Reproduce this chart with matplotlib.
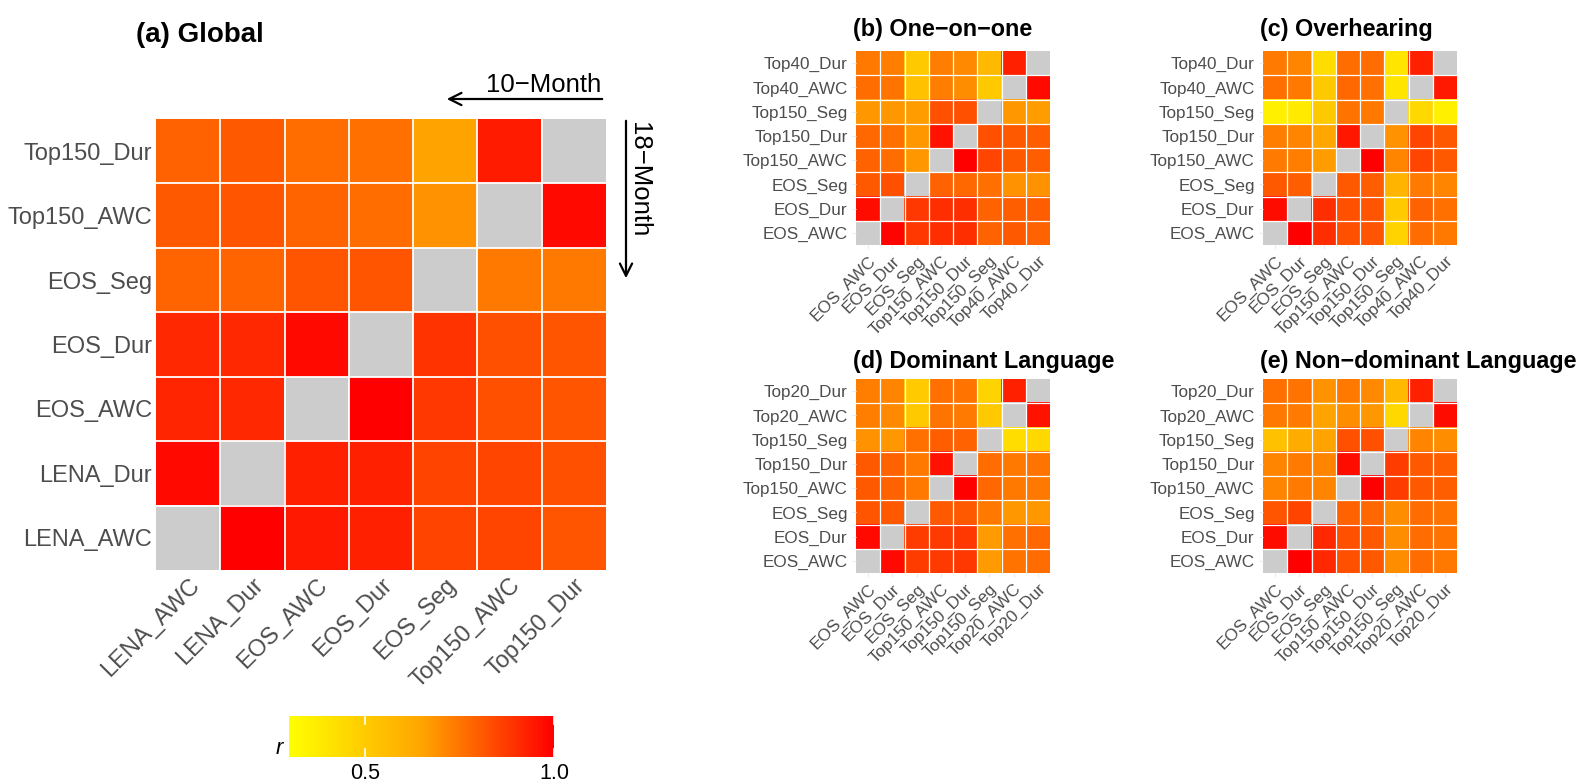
import numpy as np
import matplotlib
matplotlib.use("Agg")
import matplotlib.pyplot as plt
from matplotlib.colors import LinearSegmentedColormap, Normalize

plt.rcParams['font.family'] = ['Liberation Sans', 'DejaVu Sans']

NA = np.nan

# (a) Global: rows listed top to bottom, columns left to right
global_cols = ['LENA_AWC', 'LENA_Dur', 'EOS_AWC', 'EOS_Dur', 'EOS_Seg', 'Top150_AWC', 'Top150_Dur']
global_rows = global_cols[::-1]
global_r = [
    [0.79, 0.81, 0.77, 0.76, 0.655, 0.94, NA],
    [0.81, 0.82, 0.785, 0.77, 0.69, NA, 0.98],
    [0.785, 0.785, 0.82, 0.82, NA, 0.745, 0.745],
    [0.915, 0.915, 0.98, NA, 0.89, 0.83, 0.82],
    [0.92, 0.915, NA, 1.0, 0.88, 0.83, 0.82],
    [0.98, NA, 0.93, 0.93, 0.855, 0.85, 0.83],
    [NA, 1.0, 0.945, 0.93, 0.855, 0.85, 0.82],
]

ctx_cols_40 = ['EOS_AWC', 'EOS_Dur', 'EOS_Seg', 'Top150_AWC', 'Top150_Dur',
               'Top150_Seg', 'Top40_AWC', 'Top40_Dur']
ctx_cols_20 = ['EOS_AWC', 'EOS_Dur', 'EOS_Seg', 'Top150_AWC', 'Top150_Dur',
               'Top150_Seg', 'Top20_AWC', 'Top20_Dur']

# (b) One-on-one
one_on_one_r = [
    [0.745, 0.73, 0.51, 0.73, 0.71, 0.57, 0.93, NA],
    [0.77, 0.755, 0.54, 0.73, 0.70, 0.51, NA, 0.98],
    [0.68, 0.68, 0.665, 0.83, 0.83, NA, 0.68, 0.665],
    [0.78, 0.76, 0.68, 0.96, NA, 0.83, 0.81, 0.80],
    [0.79, 0.77, 0.68, NA, 1.0, 0.85, 0.81, 0.80],
    [0.81, 0.83, NA, 0.79, 0.78, 0.76, 0.69, 0.69],
    [0.97, NA, 0.88, 0.90, 0.90, 0.79, 0.80, 0.80],
    [NA, 0.99, 0.88, 0.90, 0.90, 0.79, 0.81, 0.79],
]

# (c) Overhearing
overhearing_r = [
    [0.74, 0.72, 0.43, 0.77, 0.77, 0.40, 0.93, NA],
    [0.76, 0.745, 0.51, 0.78, 0.76, 0.40, NA, 0.945],
    [0.36, 0.38, 0.51, 0.755, 0.745, NA, 0.45, 0.36],
    [0.73, 0.72, 0.64, 0.95, NA, 0.69, 0.85, 0.81],
    [0.74, 0.73, 0.665, NA, 1.0, 0.72, 0.85, 0.81],
    [0.81, 0.80, NA, 0.81, 0.80, 0.59, 0.74, 0.72],
    [0.97, NA, 0.90, 0.83, 0.82, 0.50, 0.79, 0.76],
    [NA, 1.0, 0.90, 0.83, 0.82, 0.47, 0.77, 0.745],
]

# (d) Dominant language
dominant_r = [
    [0.73, 0.72, 0.50, 0.76, 0.755, 0.47, 0.93, NA],
    [0.73, 0.71, 0.51, 0.755, 0.74, 0.51, NA, 0.96],
    [0.69, 0.68, 0.76, 0.80, 0.79, NA, 0.43, 0.45],
    [0.81, 0.79, 0.745, 0.96, NA, 0.77, 0.745, 0.755],
    [0.81, 0.79, 0.745, NA, 1.0, 0.78, 0.745, 0.745],
    [0.82, 0.81, NA, 0.81, 0.81, 0.745, 0.68, 0.68],
    [0.98, NA, 0.87, 0.875, 0.88, 0.67, 0.76, 0.78],
    [NA, 0.98, 0.87, 0.875, 0.88, 0.67, 0.755, 0.77],
]

# (e) Non-dominant language
non_dominant_r = [
    [0.76, 0.755, 0.69, 0.745, 0.71, 0.57, 0.93, NA],
    [0.745, 0.74, 0.655, 0.70, 0.68, 0.45, NA, 0.97],
    [0.54, 0.62, 0.655, 0.83, 0.83, NA, 0.72, 0.70],
    [0.72, 0.74, 0.72, 0.97, NA, 0.87, 0.81, 0.80],
    [0.72, 0.74, 0.72, NA, 1.0, 0.87, 0.81, 0.80],
    [0.82, 0.855, NA, 0.79, 0.78, 0.70, 0.77, 0.755],
    [0.97, NA, 0.915, 0.83, 0.81, 0.70, 0.77, 0.755],
    [NA, 1.0, 0.915, 0.83, 0.81, 0.70, 0.77, 0.745],
]

r_min, r_max = 0.3, 1.0
cmap = LinearSegmentedColormap.from_list('yor', ['#FFFF00', '#FFA500', '#FF0000'])
cmap.set_bad('#CCCCCC')
norm = Normalize(r_min, r_max)

W, H = 1577, 784
fig = plt.figure(figsize=(W / 100, H / 100), dpi=100)


def px_axes(x0, y0, x1, y1):
    return fig.add_axes([x0 / W, 1 - y1 / H, (x1 - x0) / W, (y1 - y0) / H])


def heat(ax, values, cols, rows, tick_fs, lw, tick_len):
    m = np.ma.masked_invalid(np.array(values, dtype=float))
    ax.imshow(m, cmap=cmap, norm=norm, aspect='auto', interpolation='nearest')
    n = len(cols)
    for k in range(1, n):
        ax.axvline(k - 0.5, color='white', lw=lw)
        ax.axhline(k - 0.5, color='white', lw=lw)
    ax.set_xticks(range(n))
    ax.set_xticklabels(cols, rotation=45, ha='right', rotation_mode='anchor')
    ax.set_yticks(range(len(rows)))
    ax.set_yticklabels(rows)
    ax.tick_params(labelsize=tick_fs, colors='#EBEBEB', labelcolor='#4D4D4D',
                   length=tick_len, width=0.8, pad=3)
    for s in ax.spines.values():
        s.set_visible(False)


ax_a = px_axes(156, 119, 606, 570)
heat(ax_a, global_r, global_cols, global_rows, 17, 1.3, 0)
fig.text(136 / W, 1 - 22 / H, '(a) Global', fontsize=20, fontweight='bold',
         ha='left', va='top')

# age direction arrows
fig.add_artist(matplotlib.patches.FancyArrowPatch(
    (605 / W, 1 - 99 / H), (444 / W, 1 - 99 / H), transform=fig.transFigure,
    arrowstyle='->', mutation_scale=22, lw=1.6, color='black'))
fig.text(601 / W, 1 - 97 / H, '10\u2212Month', fontsize=18.5, ha='right', va='bottom')
fig.add_artist(matplotlib.patches.FancyArrowPatch(
    (626 / W, 1 - 118 / H), (626 / W, 1 - 281 / H), transform=fig.transFigure,
    arrowstyle='->', mutation_scale=22, lw=1.6, color='black'))
fig.text(627 / W, 1 - 122 / H, '18\u2212Month', fontsize=18.5, rotation=-90,
         ha='left', va='top')

small = [
    ((856, 51), 18, one_on_one_r, ctx_cols_40, '(b) One\u2212on\u2212one'),
    ((1263, 51), 18, overhearing_r, ctx_cols_40, '(c) Overhearing'),
    ((856, 379), 350, dominant_r, ctx_cols_20, '(d) Dominant Language'),
    ((1263, 379), 350, non_dominant_r, ctx_cols_20, '(e) Non\u2212dominant Language'),
]
for (x0, y0), ty, vals, cols, title in small:
    ax = px_axes(x0, y0, x0 + 194, y0 + 194)
    heat(ax, vals, cols, cols[::-1], 12.3, 0.9, 3)
    fig.text((x0 - 3) / W, 1 - ty / H, title,
             fontsize=16.8, fontweight='bold', ha='left', va='top')

# colour bar
cax = px_axes(289, 716, 554, 757)
grad = np.linspace(r_min, r_max, 256)[None, :]
cax.imshow(grad, cmap=cmap, norm=norm, aspect='auto',
           extent=[r_min, r_max, 0, 1])
for t in [0.5, 1.0]:
    cax.plot([t, t], [0, 0.2], color='white', lw=1.2)
    cax.plot([t, t], [0.8, 1], color='white', lw=1.2)
cax.set_xlim(r_min, r_max)
cax.set_ylim(0, 1)
cax.set_xticks([0.5, 1.0])
cax.set_xticklabels(['0.5', '1.0'])
cax.set_yticks([])
cax.tick_params(axis='x', length=0, labelsize=15.5, labelcolor='black', pad=4)
for s in cax.spines.values():
    s.set_visible(False)
fig.text(279 / W, 1 - 748 / H, 'r', fontsize=16, style='italic',
         ha='center', va='center')

fig.savefig('out.png', dpi=100)
